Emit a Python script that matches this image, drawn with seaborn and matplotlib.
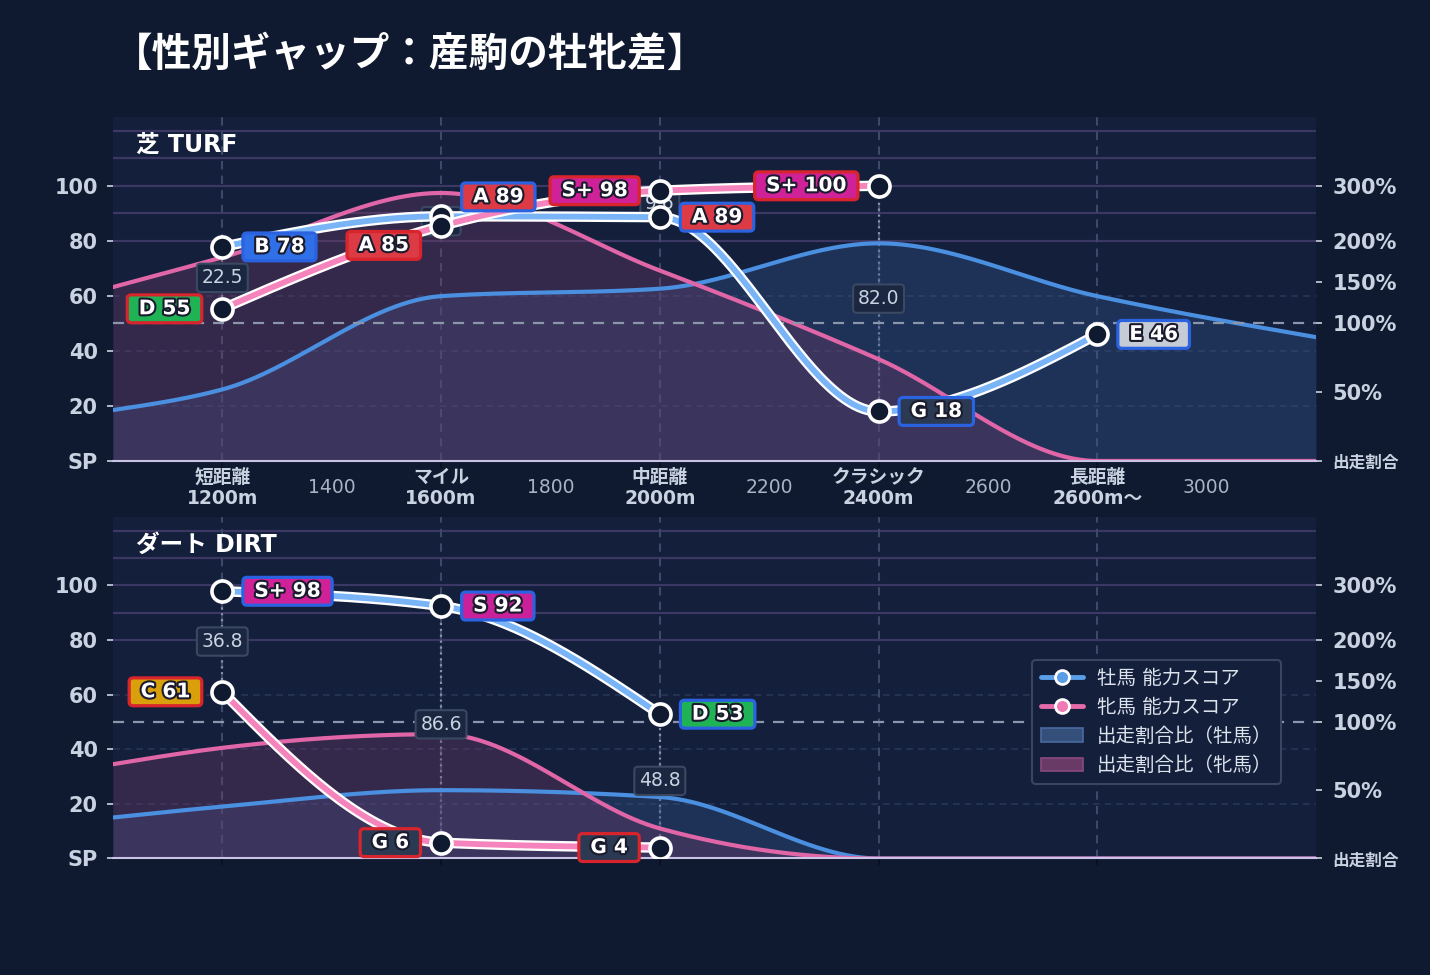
import numpy as np
import matplotlib
matplotlib.use("Agg")
import matplotlib.pyplot as plt
import seaborn as sns
from matplotlib import patheffects as pe
from matplotlib.lines import Line2D
from matplotlib.patches import Patch

# ---------------- data ----------------
TITLE = "【性別ギャップ：産駒の牡牝差】"
categories = ["短距離\n1200m", "マイル\n1600m", "中距離\n2000m", "クラシック\n2400m", "長距離\n2600m〜"]
minor_labels = ["1400", "1800", "2200", "2600", "3000"]
panel_names = ["芝 TURF", "ダート DIRT"]
legend_labels = ["牡馬 能力スコア", "牝馬 能力スコア", "出走割合比（牡馬）", "出走割合比（牝馬）"]

# ability scores per category (None = no data)
turf_male_score = [77.8, 88.9, 88.6, 18.0, 46.0]
turf_female_score = [55.3, 85.4, 98.2, 100.0, None]
dirt_male_score = [97.8, 92.4, 52.8, None, None]
dirt_female_score = [61.0, 5.8, 4.0, None, None]

# 出走割合比 (%) : left edge, each category, right edge
share_dist = [1000, 1200, 1600, 2000, 2400, 2800, 3200]
turf_male_share = [37, 52, 133, 142, 197, 133, 90]
turf_female_share = [144, 180, 287, 164, 74, 0, 0]
dirt_male_share = [30, 38, 50, 45, 0, 0, 0]
dirt_female_share = [69, 81, 91, 22, 0, 0, 0]

score_ticks = [0, 20, 40, 60, 80, 100]
score_tick_labels = ["SP", "20", "40", "60", "80", "100"]
ratio_ticks = [0, 50, 100, 150, 200, 300]
ratio_tick_labels = ["出走割合", "50%", "100%", "150%", "200%", "300%"]

grade_names = ["S+", "S", "A", "B", "C", "D", "E", "F", "G"]
grade_min = [95, 90, 80, 70, 60, 50, 40, 30, 0]
grade_colors = ["#cf2198", "#c8219a", "#dc3b45", "#2f6fe8", "#d9a00c",
                "#1fb355", "#c5ccd6", "#7a8699", "#2b3a52"]

# ---------------- style ----------------
FIG_BG = "#0f1a30"
AX_BG = "#131f3b"
TXT = "#c8d2e0"
MALE_LINE = "#4a8fe0"
FEMALE_LINE = "#e066a8"
MALE_FILL = "#35578d"
FEMALE_FILL = "#743d6b"
MALE_SCORE = "#79b4f7"
FEMALE_SCORE = "#f584bd"
MALE_BORDER = "#2a62e0"
FEMALE_BORDER = "#d8242c"

sns.set_theme(style="dark", rc={"axes.facecolor": AX_BG, "figure.facecolor": FIG_BG})
plt.rcParams["font.family"] = ["DejaVu Sans", "Noto Sans CJK JP"]


def ratio_to_y(r):
    r = np.asarray(r, float)
    return np.where(r <= 100, r / 2.0,
                    np.where(r <= 200, 50 + (r - 100) * 0.3, 80 + (r - 200) * 0.2))


def monotone(x, y, xq):
    """Monotone cubic (d3 curveMonotoneX style)."""
    x = np.asarray(x, float)
    y = np.asarray(y, float)
    n = len(x)
    h = np.diff(x)
    s = np.diff(y) / h
    t = np.zeros(n)
    if n == 2:
        t[:] = s[0]
    else:
        sg = lambda v: -1.0 if v < 0 else 1.0
        for k in range(1, n - 1):
            p = (s[k - 1] * h[k] + s[k] * h[k - 1]) / (h[k - 1] + h[k])
            t[k] = (sg(s[k - 1]) + sg(s[k])) * min(abs(s[k - 1]), abs(s[k]), 0.5 * abs(p))
        t[0] = (3 * s[0] - t[1]) / 2
        t[-1] = (3 * s[-1] - t[-2]) / 2
    idx = np.clip(np.searchsorted(x, xq) - 1, 0, n - 2)
    u = (xq - x[idx]) / h[idx]
    h00 = 2 * u**3 - 3 * u**2 + 1
    h10 = u**3 - 2 * u**2 + u
    h01 = -2 * u**3 + 3 * u**2
    h11 = u**3 - u**2
    return h00 * y[idx] + h10 * h[idx] * t[idx] + h01 * y[idx + 1] + h11 * h[idx] * t[idx + 1]


def grade_of(v):
    for name, lo, col in zip(grade_names, grade_min, grade_colors):
        if v >= lo:
            return name, col
    return grade_names[-1], grade_colors[-1]


def dist_to_x(d):
    return (np.asarray(d, float) - 1200) / 400.0


def draw_panel(ax, male_score, female_score, male_share, female_share, name, top):
    ax.set_facecolor(AX_BG)
    ax.set_xlim(-0.5, 5.0)
    ax.set_ylim(0, 125)

    # grid
    for v in [80, 90, 100, 110, 120]:
        ax.axhline(v, color="#3b3863", lw=1.6, zorder=0.6)
    for v in [20, 40, 60]:
        ax.axhline(v, color="#283656", lw=1.2, ls=(0, (4, 3)), zorder=0.6)
    for i in range(len(categories)):
        ax.axvline(i, color="#3c4969", lw=1.5, ls=(0, (4, 3)), zorder=0.6)

    # share areas
    xs_share = dist_to_x(share_dist)
    dense = np.linspace(-0.5, 5.0, 700)
    m_y = np.clip(monotone(xs_share, ratio_to_y(male_share), dense), 0, None)
    f_y = np.clip(monotone(xs_share, ratio_to_y(female_share), dense), 0, None)
    ax.fill_between(dense, 0, m_y, color=MALE_FILL, alpha=0.35, lw=0, zorder=1)
    ax.fill_between(dense, 0, f_y, color=FEMALE_FILL, alpha=0.35, lw=0, zorder=1.1)
    sns.lineplot(x=dense, y=m_y, ax=ax, color=MALE_LINE, lw=3, estimator=None,
                 sort=False, legend=False, zorder=2)
    sns.lineplot(x=dense, y=f_y, ax=ax, color=FEMALE_LINE, lw=3, estimator=None,
                 sort=False, legend=False, zorder=2.1)
    ax.axhline(50, color="#8b96ab", lw=1.6, ls=(0, (5, 4)), zorder=3)

    # score lines
    for scores, col, z in [(male_score, MALE_SCORE, 5), (female_score, FEMALE_SCORE, 5.2)]:
        xi = [i for i, v in enumerate(scores) if v is not None]
        yi = [scores[i] for i in xi]
        xd = np.linspace(xi[0], xi[-1], 400)
        yd = monotone(xi, yi, xd)
        sns.lineplot(x=xd, y=yd, ax=ax, color="white", lw=7.5, estimator=None,
                     sort=False, legend=False, zorder=z)
        sns.lineplot(x=xd, y=yd, ax=ax, color=col, lw=4.2, estimator=None,
                     sort=False, legend=False, zorder=z + 0.05)

    # gap lines + labels
    for i, (m, f) in enumerate(zip(male_score, female_score)):
        if m is None or f is None:
            continue
        ax.plot([i, i], [min(m, f), max(m, f)], ls=":", color="#8792a8", lw=1.6, zorder=0.8)
        ax.text(i, (m + f) / 2, f"{abs(m - f):.1f}", ha="center", va="center",
                fontsize=13.5, color=TXT, zorder=4.5,
                bbox=dict(boxstyle="round,pad=0.25,rounding_size=0.2", fc="#1b2741",
                          ec="#3b4862", lw=1.5))

    # markers
    for scores, z in [(male_score, 6), (female_score, 6.1)]:
        xi = [i for i, v in enumerate(scores) if v is not None]
        yi = [scores[i] for i in xi]
        sns.scatterplot(x=xi, y=yi, ax=ax, s=230, color=FIG_BG, edgecolor="white",
                        linewidth=2.6, zorder=z, legend=False)

    # grade labels
    for i, (m, f) in enumerate(zip(male_score, female_score)):
        dm = df = 0
        if m is not None and f is not None and abs(m - f) < 6:
            dm = 14 if m >= f else -14
            df = -dm
        for v, side, dy, border in [(m, 1, dm, MALE_BORDER), (f, -1, df, FEMALE_BORDER)]:
            if v is None:
                continue
            g, gc = grade_of(v)
            ax.annotate(f" {g} {round(v)} ", xy=(i, v), xytext=(side * 18, dy),
                        textcoords="offset points", ha="left" if side > 0 else "right",
                        va="center", fontsize=14.5, fontweight="bold", color="white",
                        zorder=7,
                        path_effects=[pe.withStroke(linewidth=3, foreground="#1b1b2e")],
                        bbox=dict(boxstyle="round,pad=0.22,rounding_size=0.2", fc=gc,
                                  ec=border, lw=2.3))

    # panel name
    ax.text(0.019, 0.918, name, transform=ax.transAxes, ha="left", va="center",
            fontsize=17, fontweight="bold", color="white", zorder=8)

    # axes / ticks
    for s in ["left", "right", "top"]:
        ax.spines[s].set_visible(False)
    ax.spines["bottom"].set_color("#c9c3e6")
    ax.spines["bottom"].set_linewidth(1.5)
    ax.spines["bottom"].set_zorder(2.5)
    ax.set_yticks(score_ticks, labels=score_tick_labels)
    ax.tick_params(axis="y", which="major", left=True, length=4, width=1.2,
                   color=TXT, labelcolor=TXT, labelsize=15, pad=7)
    for lb in ax.get_yticklabels():
        lb.set_fontweight("bold")
    ax.set_xticks(range(len(categories)), labels=categories if top else [""] * len(categories))
    ax.tick_params(axis="x", which="major", bottom=True, length=5, width=1.3,
                   color="#0b1020", labelcolor=TXT, labelsize=13.5, pad=0)
    for lb in ax.get_xticklabels():
        lb.set_fontweight("bold")
        lb.set_linespacing(1.15)
    if top:
        minor_pos = list(dist_to_x([int(l) for l in minor_labels]))
        ax.set_xticks(minor_pos, labels=minor_labels, minor=True)
        ax.tick_params(axis="x", which="minor", length=0, labelcolor="#a9b3c4",
                       labelsize=13.5, pad=12)
    ax.grid(False)
    ax.set_xlabel("")
    ax.set_ylabel("")

    ax2 = ax.twinx()
    ax2.set_ylim(0, 125)
    ax2.set_yticks(ratio_to_y(ratio_ticks), labels=ratio_tick_labels)
    ax2.tick_params(axis="y", right=True, length=4, width=1.2, color=TXT,
                    labelcolor=TXT, labelsize=15, pad=8)
    for lb in ax2.get_yticklabels():
        lb.set_fontweight("bold")
        if lb.get_text() == ratio_tick_labels[0]:
            lb.set_fontsize(12)
    for s in ax2.spines.values():
        s.set_visible(False)
    ax2.grid(False)
    return ax


fig = plt.figure(figsize=(14.3, 9.75), dpi=100, facecolor=FIG_BG)
ax_top = fig.add_axes([0.079, 0.5272, 0.8413, 0.3528])
ax_bot = fig.add_axes([0.079, 0.1195, 0.8413, 0.3503])

draw_panel(ax_top, turf_male_score, turf_female_score, turf_male_share, turf_female_share,
           panel_names[0], True)
draw_panel(ax_bot, dirt_male_score, dirt_female_score, dirt_male_share, dirt_female_share,
           panel_names[1], False)

handles = [
    Line2D([0], [0], color="#5a9ee8", lw=3.5, marker="o", markersize=10,
           markerfacecolor="#5a9ee8", markeredgecolor="white", markeredgewidth=2),
    Line2D([0], [0], color="#e56aa9", lw=3.5, marker="o", markersize=10,
           markerfacecolor="#f07ab5", markeredgecolor="white", markeredgewidth=2),
    Patch(facecolor="#34507a", edgecolor="#4a6aa0", lw=1.2),
    Patch(facecolor="#6a3a66", edgecolor="#8a4a80", lw=1.2),
]
leg = ax_bot.legend(handles, legend_labels, loc="upper right", bbox_to_anchor=(0.971, 0.581),
                    borderaxespad=0, frameon=True, facecolor="#131f3b", edgecolor="#3a4660",
                    framealpha=1, fontsize=14, labelcolor="#dde3ec", handlelength=2.2,
                    borderpad=0.45, labelspacing=0.52, handletextpad=0.7)
leg.set_zorder(20)
leg.get_frame().set_linewidth(1.5)

fig.text(0.079, 0.9436, TITLE, fontsize=28.5, fontweight="bold", color="white",
         ha="left", va="center")

fig.savefig("out.png", dpi=100, facecolor=FIG_BG)
